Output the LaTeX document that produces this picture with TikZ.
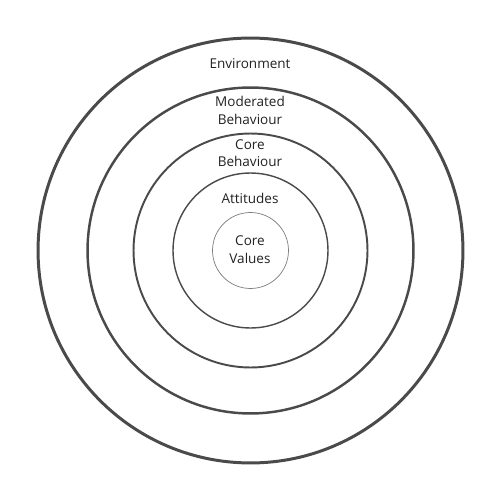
\documentclass[tikz,border=0pt]{standalone}
\usepackage{fontspec}
\setmainfont{Open Sans}
\usepackage{xcolor}
\usepackage{tikz}
\usetikzlibrary{positioning}
\definecolor{ringdark}{HTML}{4A4A4A}
\definecolor{ringlight}{HTML}{7A7A7A}
\definecolor{labeltext}{HTML}{222222}
\tikzset{
  ring/.style={circle, draw=ringdark, inner sep=0pt},
  ringlbl/.style={font=\fontsize{7.7}{9.9}\selectfont, text=labeltext, align=center, inner sep=0pt},
}

\begin{document}
\begin{tikzpicture}[x=0.02cm, y=-0.02cm]
    \useasboundingbox (0,0) rectangle (500,500);
    \node[ring, line width=1.7pt, minimum size=8.5cm] (env) at (250.5,250.5) {};
    \node[ring, line width=1.4pt, minimum size=6.52cm] (modb) at (250.5,250.5) {};
    \node[ring, line width=1.1pt, minimum size=4.68cm] (coreb) at (250.5,250.5) {};
    \node[ring, line width=0.8pt, minimum size=3.1cm] (att) at (250.5,250.5) {};
    \node[ring, draw=ringlight, line width=0.4pt, minimum size=1.52cm] (corev) at (250.5,250.5) {};
    \node[ringlbl] (envlbl) at (250,64) {Environment};
    \node[ringlbl] (modblbl) at (250,110.5) {Moderated\\Behaviour};
    \node[ringlbl] (coreblbl) at (250,153) {Core\\Behaviour};
    \node[ringlbl] (attlbl) at (250,198) {Attitudes};
    \node[ringlbl] (corevlbl) at (250,249.5) {Core\\Values};
  \end{tikzpicture}
\end{document}
